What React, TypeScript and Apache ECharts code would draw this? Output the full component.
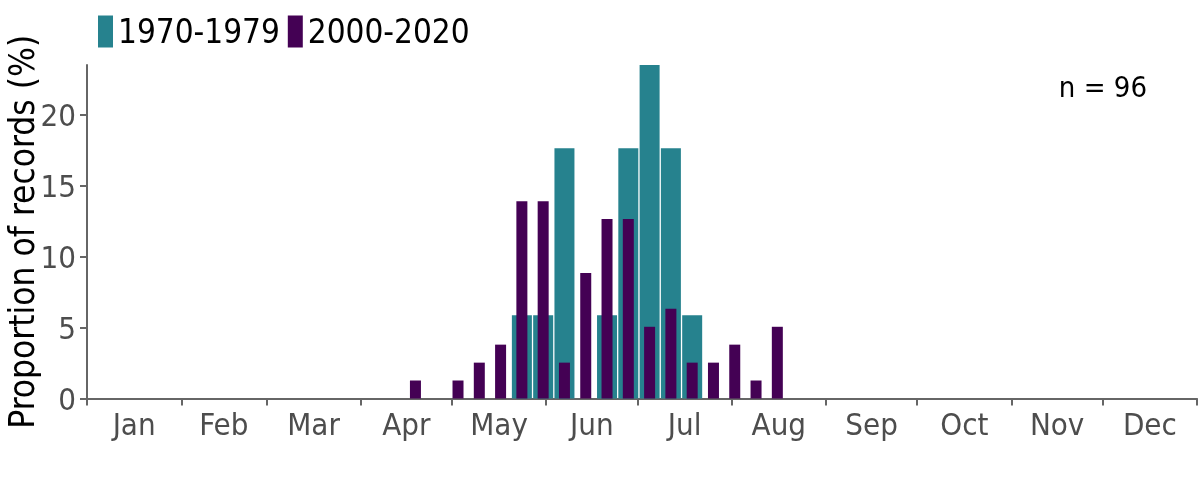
import React, { useEffect, useRef } from "react";
import * as echarts from "echarts";

const FONT = '"DejaVu Sans Condensed", "DejaVu Sans", sans-serif';

const months = ["Jan", "Feb", "Mar", "Apr", "May", "Jun", "Jul", "Aug", "Sep", "Oct", "Nov", "Dec"];
const monthStarts = [0, 31, 59, 90, 120, 151, 181, 212, 243, 273, 304, 334, 365];
const yTicks = [0, 5, 10, 15, 20];
const yMax = 23.53;

// week-of-year index (0-based) and proportion of records (%)
const seriesNames = ["1970-1979", "2000-2020"];
const tealWeeks = [20, 21, 22, 24, 25, 26, 27, 28];
const tealValues = [5.88, 5.88, 17.65, 5.88, 17.65, 23.53, 17.65, 5.88];
const purpleWeeks = [15, 17, 18, 19, 20, 21, 22, 23, 24, 25, 26, 27, 28, 29, 30, 31, 32];
const purpleValues = [1.27, 1.27, 2.53, 3.8, 13.92, 13.92, 2.53, 8.86, 12.66, 12.66, 5.06, 6.33, 2.53, 2.53, 3.8, 1.27, 5.06];
const nLabel = "n = 96";

const weekToDay = (w: number) => w * 7 + 3;
const monthMids = months.map((_, i) => (monthStarts[i] + monthStarts[i + 1]) / 2);

export default function App() {
  const ref = useRef<HTMLDivElement>(null);
  useEffect(() => {
    if (!ref.current) return;
    const chart = echarts.init(ref.current, null, { renderer: "svg" });
    const axisColor = "#666666";
    const baseX = {
      type: "value",
      min: 0,
      max: 365,
      splitLine: { show: false },
    };
    chart.setOption({
      animation: false,
      grid: { left: 87, right: 3, top: 65, bottom: 81.5, outerBoundsMode: "none" },
      legend: {
        data: seriesNames,
        left: 93,
        top: 10,
        icon: "rect",
        itemWidth: 15,
        itemHeight: 32,
        itemGap: 8,
        textStyle: { fontFamily: FONT, fontSize: 33, color: "#000" },
      },
      xAxis: [
        {
          ...baseX,
          axisLine: { show: true, lineStyle: { color: axisColor, width: 2 } },
          axisTick: { show: true, customValues: monthStarts, length: 7, lineStyle: { color: axisColor, width: 2 } },
          axisLabel: {
            customValues: monthMids,
            formatter: (v: number) => {
              const i = monthMids.findIndex((m) => Math.abs(m - v) < 0.01);
              return i >= 0 ? months[i] : "";
            },
            fontFamily: FONT,
            fontSize: 31,
            color: "#4D4D4D",
            margin: 10,
          },
        },
        { ...baseX, show: false },
      ],
      yAxis: {
        type: "value",
        min: 0,
        max: yMax,
        splitLine: { show: false },
        axisLine: { show: true, lineStyle: { color: axisColor, width: 2 } },
        axisTick: { show: true, customValues: yTicks, length: 7, lineStyle: { color: axisColor, width: 2 } },
        axisLabel: {
          customValues: yTicks,
          fontFamily: FONT,
          fontSize: 31,
          color: "#4D4D4D",
          margin: 11,
        },
        name: "Proportion of records (%)",
        nameLocation: "middle",
        nameGap: 48,
        nameMoveOverlap: false,
        nameTextStyle: { fontFamily: FONT, fontSize: 35, color: "#000" },
      },
      series: [
        {
          name: seriesNames[0],
          type: "bar",
          xAxisIndex: 0,
          barWidth: 20,
          itemStyle: { color: "#26828E" },
          data: tealWeeks.map((w, i) => [weekToDay(w), tealValues[i]]),
        },
        {
          name: seriesNames[1],
          type: "bar",
          xAxisIndex: 1,
          barWidth: 11,
          itemStyle: { color: "#440154" },
          data: purpleWeeks.map((w, i) => [weekToDay(w), purpleValues[i]]),
        },
      ],
      graphic: [
        {
          type: "text",
          right: 53,
          top: 72,
          style: { text: nLabel, fontFamily: FONT, fontSize: 29, fill: "#000" },
        },
      ],
    });
    return () => chart.dispose();
  }, []);
  return <div ref={ref} style={{ position: "fixed", left: 0, top: 0, width: 1200, height: 480 }} />;
}
